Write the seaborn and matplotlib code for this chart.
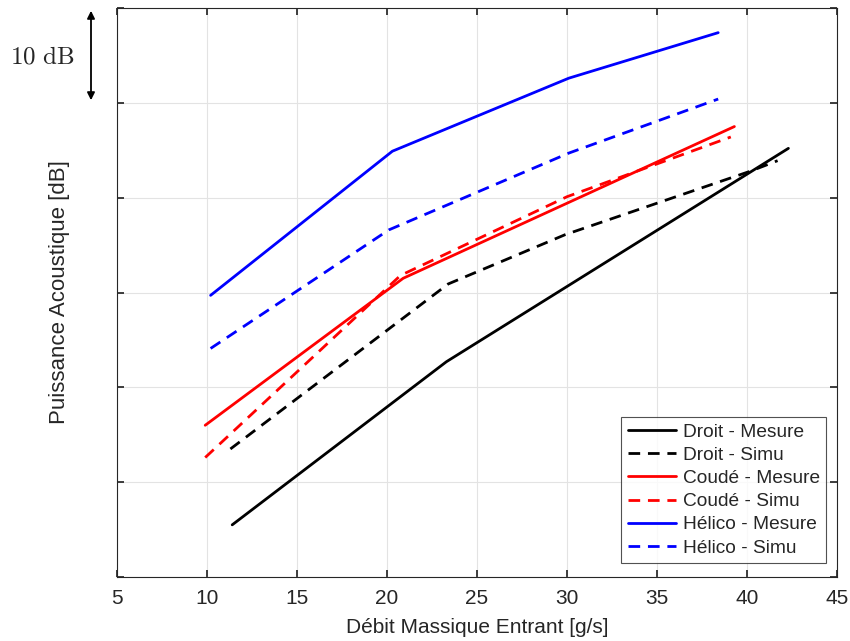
import matplotlib
matplotlib.use("Agg")
import matplotlib.pyplot as plt
import seaborn as sns
import numpy as np

sns.set_theme(style="white")
plt.rcParams['font.family'] = ['Liberation Sans', 'DejaVu Sans']
plt.rcParams['mathtext.fontset'] = 'cm'

# Data (y in dB, arbitrary reference; one tick = 10 dB)
droit_mes_x = [11.4, 23.3, 42.3]
droit_mes_y = [5.5, 22.7, 45.2]
droit_sim_x = [11.3, 23.4, 29.9, 40.2, 41.7]
droit_sim_y = [13.5, 30.9, 36.1, 42.8, 43.9]
coude_mes_x = [9.9, 20.9, 39.3]
coude_mes_y = [16.0, 31.5, 47.5]
coude_sim_x = [9.9, 20.75, 30.0, 39.1]
coude_sim_y = [12.6, 31.8, 40.1, 46.4]
helico_mes_x = [10.2, 20.3, 30.1, 38.4]
helico_mes_y = [29.7, 44.9, 52.6, 57.4]
helico_sim_x = [10.2, 20.1, 30.1, 38.4]
helico_sim_y = [24.1, 36.6, 44.7, 50.4]

series = [
    ("Droit - Mesure", droit_mes_x, droit_mes_y, "black", "-"),
    ("Droit - Simu", droit_sim_x, droit_sim_y, "black", "--"),
    ("Coudé - Mesure", coude_mes_x, coude_mes_y, "#ff0000", "-"),
    ("Coudé - Simu", coude_sim_x, coude_sim_y, "#ff0000", "--"),
    ("Hélico - Mesure", helico_mes_x, helico_mes_y, "#0000ff", "-"),
    ("Hélico - Simu", helico_sim_x, helico_sim_y, "#0000ff", "--"),
]

fig = plt.figure(figsize=(8.5, 6.41), dpi=100)
ax = fig.add_axes([117/850, 1-577/641, (837-117)/850, (577-8)/641])

for label, xs, ys, col, ls in series:
    sns.lineplot(x=xs, y=ys, ax=ax, color=col, linestyle=ls, linewidth=2.0,
                 label=label, sort=False)
    ln = ax.lines[-1]
    if ls == "--":
        ln.set_dashes((4.2, 2.8))

ax.set_xlim(5, 45)
ax.set_ylim(0, 60)
ax.set_xticks(np.arange(5, 46, 5))
ax.set_yticks(np.arange(0, 61, 10))
ax.set_yticklabels([])
ax.grid(True, color="#e3e3e3", linewidth=0.8)
ax.tick_params(axis='x', labelsize=15, direction='in', length=5, colors='#262626',
               top=True, bottom=True, pad=9)
ax.tick_params(axis='y', direction='in', length=5, colors='#262626', left=True, right=True)
for sp in ax.spines.values():
    sp.set_color('#262626')
    sp.set_linewidth(0.8)

ax.set_xlabel("Débit Massique Entrant [g/s]", fontsize=15, color='#262626', labelpad=7)
ax.set_ylabel("Puissance Acoustique [dB]", fontsize=16, color='#262626', labelpad=30)

leg = ax.legend(loc='lower right', fontsize=13.8, frameon=True, fancybox=False,
                handlelength=2.55, borderpad=0.32, labelspacing=0.3,
                handletextpad=0.32, borderaxespad=0.0,
                bbox_to_anchor=(0.9845, 0.025))
leg.get_frame().set_edgecolor('#262626')
leg.get_frame().set_linewidth(0.8)
for h in leg.get_lines():
    h.set_linewidth(2.0)

# 10 dB scale indicator
fig.text(10/850, 1-57/641, r"$\mathrm{10\ dB}$", fontsize=18, va='center', ha='left')
fig.add_artist(matplotlib.patches.FancyArrowPatch(
    (91/850, 1-8/641), (91/850, 1-103/641), transform=fig.transFigure,
    arrowstyle='<|-|>', mutation_scale=11, color='black', linewidth=1.3))

fig.savefig("out.png", dpi=100)
